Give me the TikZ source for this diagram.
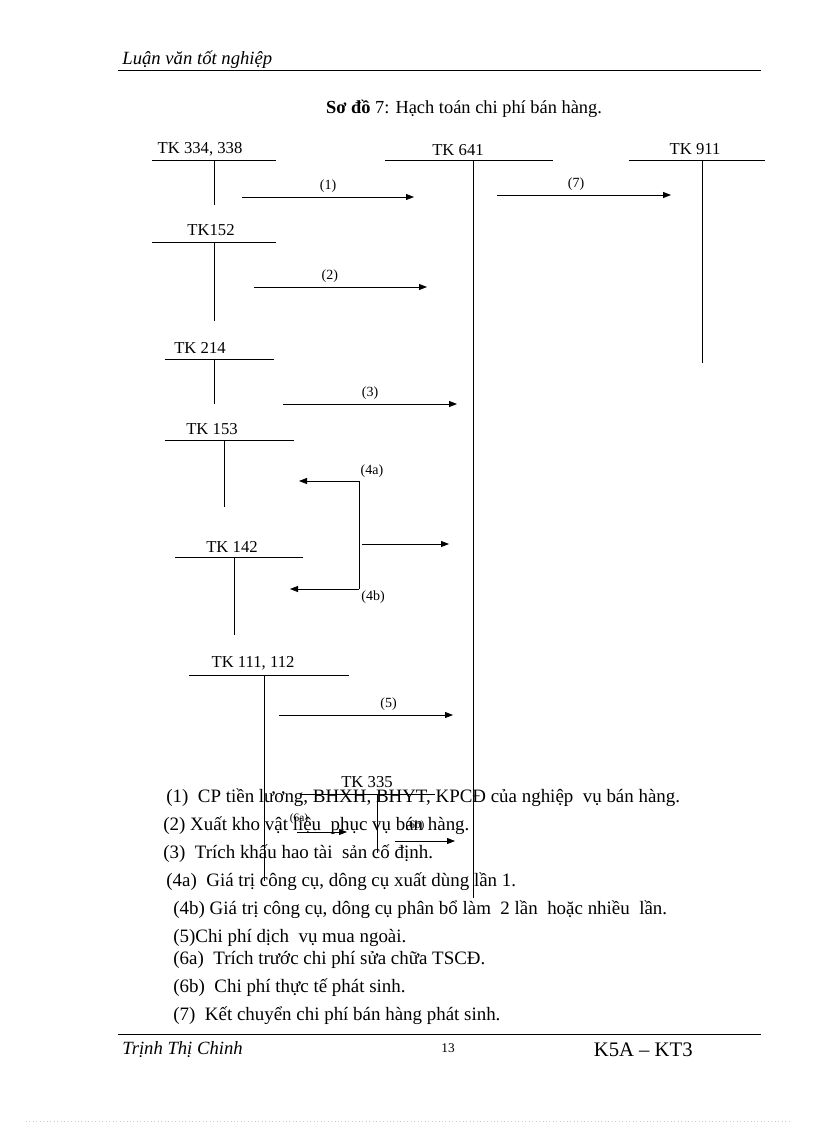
\documentclass[tikz,border=0pt]{standalone}
\usepackage{fontspec}
\setmainfont{Liberation Serif}
\usetikzlibrary{arrows.meta}

\begin{document}
\begin{tikzpicture}[x=0.75pt,y=-0.75pt,line width=0.6pt,
  tk/.style={font=\fontsize{12.5}{14}\selectfont},
  num/.style={font=\fontsize{10.5}{12}\selectfont},
  flow/.style={-{Triangle[length=6pt,width=4.5pt]}},
  legend/.style={anchor=west,inner sep=0pt,font=\fontsize{14.2}{16}\selectfont}]
\useasboundingbox (0,0) rectangle (816,1123);

% Header
\node[anchor=west,inner sep=0pt,font=\itshape\fontsize{14}{16}\selectfont] (head) at (122,60) {Luận văn tốt nghiệp};
\draw (118,70) -- (761,70);
\node[font=\fontsize{13.8}{15}\selectfont] (title) at (464,109) {\textbf{Sơ đồ} 7: Hạch toán chi phí bán hàng.};

% Accounts
\node[tk] (tk334) at (200,149) {TK 334, 338};
\draw (152,160) -- (276,160);
\draw (214,160) -- (214,205);
\node[tk] (tk641) at (458,150) {TK 641};
\draw (385,160) -- (553,160);
\draw (473,160) -- (473,898);
\node[tk] (tk911) at (695,149) {TK 911};
\draw (629,160) -- (765,160);
\draw (702,160) -- (702,363);
\node[tk] (tk152) at (211,230) {TK152};
\draw (152,242) -- (276,242);
\draw (214,242) -- (214,321);
\node[tk] (tk214) at (200,348) {TK 214};
\draw (165,359) -- (274,359);
\draw (214,359) -- (214,404);
\node[tk] (tk153) at (212,429) {TK 153};
\draw (165,440) -- (294,440);
\draw (224,440) -- (224,507);
\node[tk] (tk142) at (232,547) {TK 142};
\draw (175,557) -- (303,557);
\draw (234,557) -- (234,635);
\node[tk] (tk111) at (253,663) {TK 111, 112};
\draw (189,675) -- (349,675);
\draw (264,675) -- (264,881);
\node[tk] (tk335) at (367,782) {TK 335};
\draw (300,794) -- (435,794);
\draw (377,794) -- (377,853);

% Flows
\coordinate (s1) at (242,197); \coordinate (e1) at (414,197);
\draw[flow] (s1) -- (e1) node[num,midway,above]{(1)};
\coordinate (s7) at (497,195); \coordinate (e7) at (671,195);
\draw[flow] (s7) -- (e7) node[num,midway,above,xshift=-6]{(7)};
\coordinate (s2) at (254,287); \coordinate (e2) at (427,287);
\draw[flow] (s2) -- (e2) node[num,midway,above,xshift=-8]{(2)};
\coordinate (s3) at (283,404); \coordinate (e3) at (457,404);
\draw[flow] (s3) -- (e3) node[num,midway,above]{(3)};
\coordinate (c4a) at (359,481); \coordinate (c4b) at (359,589);
\coordinate (e4a) at (299,481); \coordinate (e4b) at (290,589);
\draw[flow] (c4a) -- (e4a);
\draw (c4a) -- (c4b);
\draw[flow] (c4b) -- (e4b);
\node[num] (l4a) at (372,471) {(4a)};
\node[num] (l4b) at (373,597) {(4b)};
\coordinate (s4) at (362,544); \coordinate (e4) at (449,544);
\draw[flow] (s4) -- (e4);
\coordinate (s5) at (279,715); \coordinate (e5) at (453,715);
\draw[flow] (s5) -- (e5) node[num,pos=0.63,above]{(5)};
\coordinate (s6a) at (297,832); \coordinate (e6a) at (347,832);
\draw[flow] (s6a) -- (e6a);
\node[font=\fontsize{8.5}{10}\selectfont] (l6a) at (299,819) {(6a)};
\coordinate (s6b) at (395,841); \coordinate (e6b) at (455,841);
\draw[flow] (s6b) -- (e6b);
\node[font=\fontsize{8.5}{10}\selectfont] (l6b) at (415,826) {(6b)};

% Legend
\node[legend] (leg1) at (166,798) {(1)\ \ CP tiền lương, BHXH, BHYT, KPCĐ của nghiệp\ \ vụ bán hàng.};
\node[legend] (leg2) at (163,826) {(2) Xuất kho vật liệu\ \ phục vụ bán hàng.};
\node[legend] (leg3) at (163,854) {(3)\ \ Trích khấu hao tài\ \ sản cố định.};
\node[legend] (leg4) at (166,882) {(4a)\ \ Giá trị công cụ, dông cụ xuất dùng lần 1.};
\node[legend] (leg5) at (173,910) {(4b) Giá trị công cụ, dông cụ phân bổ làm\ \ 2 lần\ \ hoặc nhiều\ \ lần.};
\node[legend] (leg6) at (173,938) {(5)Chi phí dịch\ \ vụ mua ngoài.};
\node[legend] (leg7) at (173,960) {(6a)\ \ Trích trước chi phí sửa chữa TSCĐ.};
\node[legend] (leg8) at (173,988) {(6b)\ \ Chi phí thực tế phát sinh.};
\node[legend] (leg9) at (173,1016) {(7)\ \ Kết chuyển chi phí bán hàng phát sinh.};

% Footer
\draw (118,1034) -- (761,1034);
\node[anchor=west,inner sep=0pt,font=\itshape\fontsize{14}{16}\selectfont] (author) at (122,1050) {Trịnh Thị Chinh};
\node[font=\fontsize{10}{12}\selectfont] (page) at (448,1048) {13};
\node[anchor=east,inner sep=0pt,font=\fontsize{15.5}{17}\selectfont] (class) at (693,1050) {K5A – KT3};
\draw[gray!40,dotted] (26,1121) -- (790,1121);

\end{tikzpicture}
\end{document}
